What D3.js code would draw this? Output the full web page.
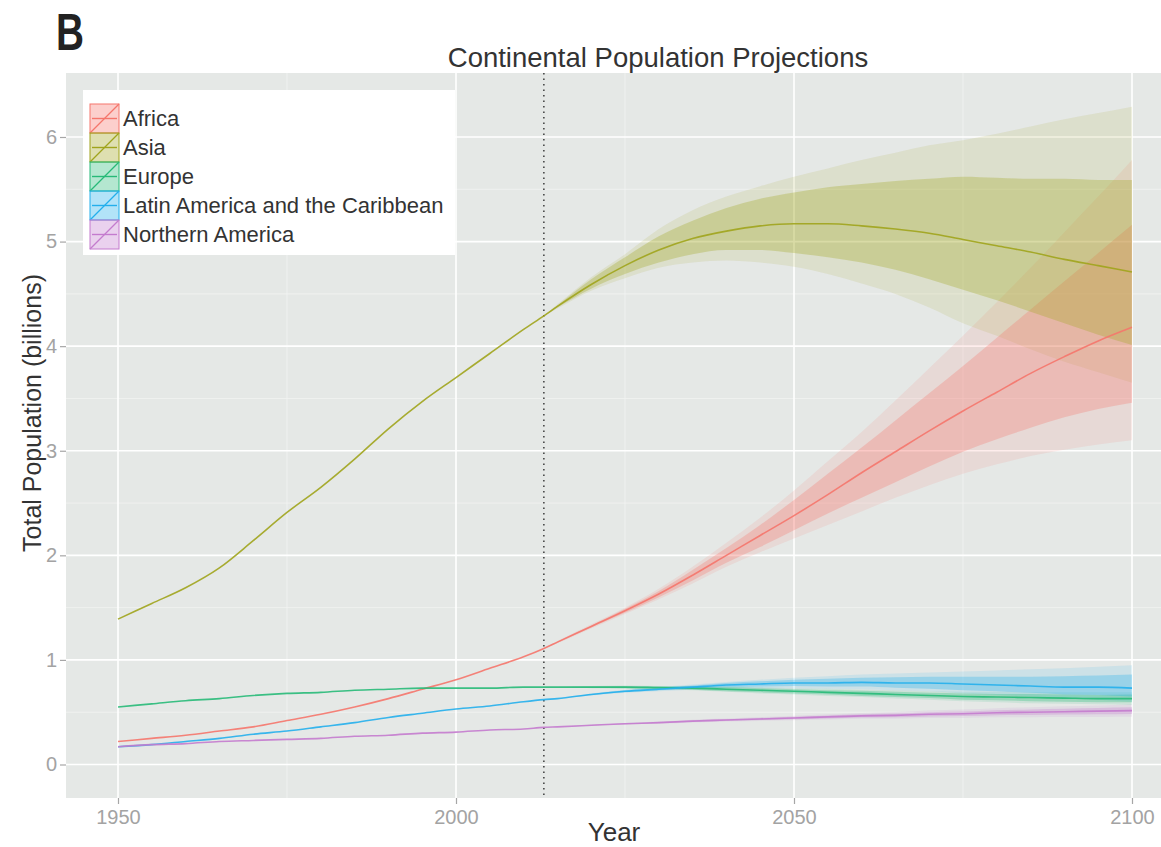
<!DOCTYPE html>
<html>
<head>
<meta charset="utf-8">
<script src="https://cdn.jsdelivr.net/npm/d3@7"></script>
<style>
  body { margin: 0; background: #fff; }
  svg text { font-family: "Liberation Sans", Arial, Helvetica, sans-serif; }
</style>
</head>
<body>
<div class="container"></div>
<script>
// ---- data (billions) ----
const years = [1950, 1955, 1960, 1965, 1970, 1975, 1980, 1985, 1990, 1995, 2000, 2005, 2010,
  2013, 2015, 2020, 2025, 2030, 2035, 2040, 2045, 2050, 2055, 2060, 2065, 2070, 2075, 2080, 2085, 2090, 2095, 2100];
const projYears = [2013, 2015, 2020, 2025, 2030, 2035, 2040, 2045, 2050, 2055, 2060, 2065, 2070, 2075, 2080, 2085, 2090, 2095, 2100];
const projStart = 2013;

const regions = ["Africa", "Asia", "Europe", "Latin America and the Caribbean", "Northern America"];
const colors = ["#F5766C", "#A0A41C", "#27BA78", "#23AFEC", "#C47BCE"];

const africa = [0.22, 0.25, 0.28, 0.32, 0.36, 0.42, 0.48, 0.55, 0.63, 0.72, 0.81, 0.92, 1.03,
  1.11, 1.17, 1.32, 1.47, 1.63, 1.81, 2.00, 2.19, 2.38, 2.58, 2.79, 2.99, 3.19, 3.38, 3.56, 3.74, 3.90, 4.05, 4.18];
const asia = [1.39, 1.54, 1.69, 1.88, 2.14, 2.41, 2.65, 2.92, 3.21, 3.47, 3.70, 3.93, 4.16,
  4.29, 4.38, 4.59, 4.77, 4.92, 5.03, 5.10, 5.15, 5.17, 5.17, 5.15, 5.12, 5.08, 5.02, 4.96, 4.90, 4.83, 4.77, 4.71];
const europe = [0.55, 0.58, 0.61, 0.63, 0.66, 0.68, 0.69, 0.71, 0.72, 0.73, 0.73, 0.73, 0.74,
  0.74, 0.74, 0.74, 0.74, 0.735, 0.73, 0.72, 0.71, 0.70, 0.69, 0.68, 0.67, 0.66, 0.65, 0.645, 0.64, 0.635, 0.63, 0.63];
const latin = [0.17, 0.19, 0.22, 0.25, 0.29, 0.32, 0.36, 0.40, 0.45, 0.49, 0.53, 0.56, 0.60,
  0.62, 0.63, 0.67, 0.70, 0.72, 0.74, 0.76, 0.77, 0.78, 0.78, 0.785, 0.78, 0.78, 0.77, 0.76, 0.75, 0.74, 0.74, 0.73];
const northAm = [0.17, 0.19, 0.20, 0.22, 0.23, 0.24, 0.25, 0.27, 0.28, 0.30, 0.31, 0.33, 0.34,
  0.355, 0.36, 0.375, 0.39, 0.40, 0.415, 0.425, 0.435, 0.445, 0.455, 0.465, 0.47, 0.48, 0.485, 0.495, 0.50, 0.505, 0.51, 0.515];

// 80% and 95% intervals over projYears
const africaLo80 = [1.11, 1.165, 1.31, 1.45, 1.60, 1.76, 1.93, 2.08, 2.24, 2.40, 2.55, 2.70, 2.85, 2.99, 3.11, 3.22, 3.32, 3.40, 3.46];
const africaHi80 = [1.11, 1.175, 1.33, 1.49, 1.66, 1.86, 2.07, 2.29, 2.53, 2.78, 3.03, 3.29, 3.55, 3.81, 4.08, 4.35, 4.62, 4.89, 5.16];
const africaLo95 = [1.11, 1.16, 1.30, 1.44, 1.58, 1.73, 1.89, 2.03, 2.16, 2.29, 2.42, 2.55, 2.67, 2.78, 2.87, 2.95, 3.01, 3.06, 3.10];
const africaHi95 = [1.11, 1.18, 1.34, 1.50, 1.68, 1.89, 2.12, 2.36, 2.62, 2.90, 3.18, 3.48, 3.79, 4.10, 4.42, 4.75, 5.09, 5.43, 5.78];

const asiaLo80 = [4.29, 4.37, 4.55, 4.69, 4.80, 4.88, 4.92, 4.92, 4.89, 4.85, 4.80, 4.73, 4.64, 4.54, 4.44, 4.33, 4.22, 4.11, 4.01];
const asiaHi80 = [4.29, 4.39, 4.64, 4.85, 5.05, 5.20, 5.32, 5.41, 5.47, 5.52, 5.55, 5.58, 5.60, 5.62, 5.61, 5.60, 5.60, 5.59, 5.59];
const asiaLo95 = [4.29, 4.36, 4.53, 4.65, 4.75, 4.80, 4.82, 4.80, 4.76, 4.69, 4.60, 4.50, 4.37, 4.22, 4.10, 3.97, 3.85, 3.75, 3.65];
const asiaHi95 = [4.29, 4.40, 4.66, 4.88, 5.12, 5.30, 5.43, 5.53, 5.62, 5.70, 5.78, 5.85, 5.92, 5.97, 6.03, 6.10, 6.17, 6.23, 6.29];

const europeLo80 = [0.74, 0.74, 0.735, 0.73, 0.725, 0.715, 0.70, 0.69, 0.68, 0.67, 0.655, 0.645, 0.635, 0.62, 0.615, 0.605, 0.60, 0.595, 0.595];
const europeHi80 = [0.74, 0.74, 0.745, 0.75, 0.745, 0.745, 0.74, 0.73, 0.72, 0.71, 0.705, 0.695, 0.685, 0.68, 0.675, 0.675, 0.67, 0.665, 0.67];
const europeLo95 = [0.74, 0.74, 0.73, 0.725, 0.72, 0.71, 0.695, 0.68, 0.67, 0.655, 0.645, 0.63, 0.62, 0.605, 0.595, 0.585, 0.58, 0.575, 0.57];
const europeHi95 = [0.74, 0.74, 0.75, 0.755, 0.75, 0.75, 0.745, 0.74, 0.73, 0.725, 0.715, 0.71, 0.70, 0.695, 0.695, 0.69, 0.69, 0.69, 0.69];

const latinLo80 = [0.62, 0.63, 0.665, 0.69, 0.71, 0.725, 0.74, 0.745, 0.75, 0.745, 0.745, 0.735, 0.725, 0.71, 0.70, 0.685, 0.67, 0.665, 0.65];
const latinHi80 = [0.62, 0.63, 0.675, 0.71, 0.735, 0.755, 0.78, 0.795, 0.81, 0.82, 0.83, 0.835, 0.84, 0.84, 0.84, 0.84, 0.845, 0.85, 0.86];
const latinLo95 = [0.62, 0.63, 0.66, 0.685, 0.70, 0.715, 0.73, 0.73, 0.73, 0.725, 0.72, 0.71, 0.70, 0.68, 0.665, 0.65, 0.63, 0.62, 0.60];
const latinHi95 = [0.62, 0.63, 0.68, 0.715, 0.74, 0.765, 0.79, 0.81, 0.83, 0.845, 0.86, 0.87, 0.88, 0.89, 0.90, 0.91, 0.92, 0.935, 0.95];

const northAmLo80 = [0.355, 0.36, 0.373, 0.385, 0.395, 0.408, 0.417, 0.425, 0.433, 0.441, 0.449, 0.452, 0.46, 0.463, 0.471, 0.474, 0.477, 0.48, 0.483];
const northAmHi80 = [0.355, 0.36, 0.377, 0.395, 0.405, 0.422, 0.433, 0.445, 0.457, 0.469, 0.481, 0.488, 0.50, 0.507, 0.519, 0.526, 0.533, 0.54, 0.547];
const northAmLo95 = [0.355, 0.36, 0.371, 0.383, 0.39, 0.402, 0.41, 0.417, 0.424, 0.43, 0.437, 0.438, 0.444, 0.445, 0.451, 0.452, 0.454, 0.455, 0.457];
const northAmHi95 = [0.355, 0.36, 0.379, 0.397, 0.41, 0.428, 0.44, 0.453, 0.466, 0.48, 0.493, 0.502, 0.516, 0.525, 0.539, 0.548, 0.556, 0.565, 0.573];

const xTicks = [1950, 2000, 2050, 2100];
const xMinor = [1975, 2025, 2075];
const yTicks = [0, 1, 2, 3, 4, 5, 6];
const yMinor = [0.5, 1.5, 2.5, 3.5, 4.5, 5.5];

// ---- layout ----
const WIDTH = 1161, HEIGHT = 847;
const PANEL = { left: 66, right: 1161, top: 73, bottom: 798 };

const medians = [africa, asia, europe, latin, northAm];
const bands = [
  [africaLo80, africaHi80, africaLo95, africaHi95],
  [asiaLo80, asiaHi80, asiaLo95, asiaHi95],
  [europeLo80, europeHi80, europeLo95, europeHi95],
  [latinLo80, latinHi80, latinLo95, latinHi95],
  [northAmLo80, northAmHi80, northAmLo95, northAmHi95]
];

var svg = d3.select('.container').append('svg')
  .attr('width', WIDTH)
  .attr('height', HEIGHT);

var xScale = d3.scaleLinear().domain([1950, 2100]).range([118, 1132]);
var yScale = d3.scaleLinear().domain([0, 6]).range([764.5, 137]);

svg.append('defs').append('clipPath').attr('id', 'panel-clip')
  .append('rect')
  .attr('x', PANEL.left).attr('y', PANEL.top)
  .attr('width', PANEL.right - PANEL.left).attr('height', PANEL.bottom - PANEL.top);

// panel background
svg.append('rect')
  .attr('x', PANEL.left).attr('y', PANEL.top)
  .attr('width', PANEL.right - PANEL.left).attr('height', PANEL.bottom - PANEL.top)
  .attr('fill', '#E5E8E6');

var grid = svg.append('g').attr('clip-path', 'url(#panel-clip)');
grid.selectAll('.xminor').data(xMinor).enter().append('line')
  .attr('x1', d => xScale(d)).attr('x2', d => xScale(d))
  .attr('y1', PANEL.top).attr('y2', PANEL.bottom)
  .attr('stroke', '#F3F4F3').attr('stroke-width', 0.8);
grid.selectAll('.yminor').data(yMinor).enter().append('line')
  .attr('y1', d => yScale(d)).attr('y2', d => yScale(d))
  .attr('x1', PANEL.left).attr('x2', PANEL.right)
  .attr('stroke', '#F3F4F3').attr('stroke-width', 0.8);
grid.selectAll('.xmajor').data(xTicks).enter().append('line')
  .attr('x1', d => xScale(d)).attr('x2', d => xScale(d))
  .attr('y1', PANEL.top).attr('y2', PANEL.bottom)
  .attr('stroke', '#fff').attr('stroke-width', 1.6);
grid.selectAll('.ymajor').data(yTicks).enter().append('line')
  .attr('y1', d => yScale(d)).attr('y2', d => yScale(d))
  .attr('x1', PANEL.left).attr('x2', PANEL.right)
  .attr('stroke', '#fff').attr('stroke-width', 1.6);

// projection start marker
grid.append('line')
  .attr('x1', xScale(projStart)).attr('x2', xScale(projStart))
  .attr('y1', PANEL.top).attr('y2', PANEL.bottom)
  .attr('stroke', '#222').attr('stroke-width', 1.3)
  .attr('stroke-dasharray', '1.5,4');

var plot = svg.append('g').attr('clip-path', 'url(#panel-clip)');

var area = function (lo, hi) {
  return d3.area()
    .x(function (d, i) { return xScale(projYears[i]); })
    .y0(function (d, i) { return yScale(lo[i]); })
    .y1(function (d, i) { return yScale(hi[i]); })
    .curve(d3.curveMonotoneX)(projYears);
};

// outer (95%) bands, then inner (80%) bands
bands.forEach(function (b, k) {
  plot.append('path')
    .attr('d', area(b[2], b[3]))
    .attr('fill', colors[k]).attr('fill-opacity', 0.13);
});
bands.forEach(function (b, k) {
  plot.append('path')
    .attr('d', area(b[0], b[1]))
    .attr('fill', colors[k]).attr('fill-opacity', 0.3);
});

var line = d3.line()
  .x(function (d, i) { return xScale(years[i]); })
  .y(function (d) { return yScale(d); })
  .curve(d3.curveMonotoneX);

medians.forEach(function (m, k) {
  plot.append('path')
    .attr('d', line(m))
    .attr('fill', 'none')
    .attr('stroke', colors[k])
    .attr('stroke-width', 1.6)
    .attr('stroke-opacity', 0.9);
});

// axes
var xAxis = svg.append('g')
  .attr('transform', 'translate(0,' + PANEL.bottom + ')')
  .call(d3.axisBottom(xScale).tickValues(xTicks).tickFormat(d3.format('d')).tickSize(6).tickPadding(6));
var yAxis = svg.append('g')
  .attr('transform', 'translate(' + PANEL.left + ',0)')
  .call(d3.axisLeft(yScale).tickValues(yTicks).tickFormat(d3.format('d')).tickSize(6).tickPadding(3));
[xAxis, yAxis].forEach(function (a) {
  a.select('.domain').remove();
  a.selectAll('.tick line').attr('stroke', '#A6A6A6').attr('stroke-width', 1.2);
  a.selectAll('.tick text').attr('fill', '#A3A3A3').style('font-size', '20px');
});

// titles
svg.append('text')
  .attr('x', 658).attr('y', 67)
  .attr('text-anchor', 'middle')
  .attr('fill', '#333')
  .style('font-size', '27.5px')
  .text('Continental Population Projections');

svg.append('text')
  .attr('x', 614).attr('y', 841)
  .attr('text-anchor', 'middle')
  .attr('fill', '#333')
  .style('font-size', '26px')
  .text('Year');

svg.append('text')
  .attr('transform', 'translate(41,413) rotate(-90)')
  .attr('text-anchor', 'middle')
  .attr('fill', '#333')
  .style('font-size', '25px')
  .text('Total Population (billions)');

svg.append('text')
  .attr('x', 56).attr('y', 50)
  .attr('fill', '#222')
  .attr('textLength', 28).attr('lengthAdjust', 'spacingAndGlyphs')
  .style('font-size', '51px').style('font-weight', 'bold')
  .text('B');

// legend
var legend = svg.append('g');
legend.append('rect')
  .attr('x', 83).attr('y', 90)
  .attr('width', 372).attr('height', 165)
  .attr('fill', '#fff');

var KEY = 29, KEY_X = 90, KEY_Y = 104;
regions.forEach(function (name, k) {
  var ky = KEY_Y + k * KEY;
  var g = legend.append('g');
  g.append('rect')
    .attr('x', KEY_X).attr('y', ky)
    .attr('width', KEY).attr('height', KEY)
    .attr('fill', colors[k]).attr('fill-opacity', 0.35)
    .attr('stroke', colors[k]).attr('stroke-width', 1);
  g.append('line')
    .attr('x1', KEY_X + 2).attr('x2', KEY_X + KEY - 2)
    .attr('y1', ky + KEY / 2).attr('y2', ky + KEY / 2)
    .attr('stroke', colors[k]).attr('stroke-width', 1.4);
  g.append('line')
    .attr('x1', KEY_X).attr('y1', ky + KEY)
    .attr('x2', KEY_X + KEY).attr('y2', ky)
    .attr('stroke', colors[k]).attr('stroke-width', 1.2);
  g.append('text')
    .attr('x', KEY_X + KEY + 4).attr('y', ky + KEY / 2 + 7.5)
    .attr('fill', '#333')
    .style('font-size', '22px')
    .text(name);
});
</script>
</body>
</html>
